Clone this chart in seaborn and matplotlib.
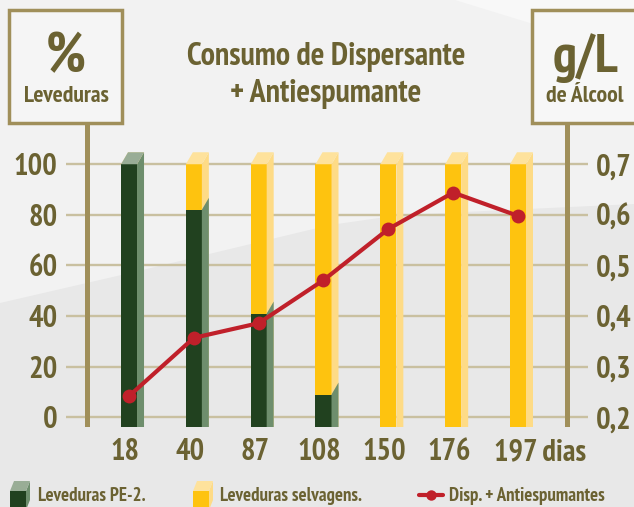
import numpy as np
import pandas as pd
import matplotlib
matplotlib.use("Agg")
import matplotlib.pyplot as plt
import matplotlib.transforms as mtransforms
from matplotlib.patches import Polygon, Rectangle
from matplotlib.lines import Line2D
import seaborn as sns

# -------------------------------
# Data
# -------------------------------
days = ["18", "40", "87", "108", "150", "176", "197"]
pe2 = [100, 82, 41, 9, 0, 0, 0]                 # % Leveduras PE-2
selvagens = [0, 18, 59, 91, 100, 100, 100]      # % Leveduras selvagens
alcool = [0.242, 0.357, 0.386, 0.471, 0.572, 0.644, 0.598]  # g/L de alcool

left_ticks = [0, 20, 40, 60, 80, 100]
right_ticks = [0.2, 0.3, 0.4, 0.5, 0.6, 0.7]
right_labels = ["0,2", "0,3", "0,4", "0,5", "0,6", "0,7"]

# -------------------------------
# Style
# -------------------------------
sns.set_style("white")
plt.rcParams["font.family"] = ["PT Sans Narrow", "Fira Sans Condensed", "DejaVu Sans"]
plt.rcParams["font.weight"] = "bold"

GREEN, GREEN_SIDE, GREEN_TOP = "#21411f", "#6e8e6d", "#99ad96"
YELLOW, YELLOW_SIDE, YELLOW_TOP = "#fec30f", "#fedb86", "#fee29c"
RED = "#c0202a"
TXT = "#6b6232"
FRAME = "#a08f5a"
GRID = "#c9c0a0"
TICK_FS = 22

W, H = 634, 507
fig = plt.figure(figsize=(W / 100, H / 100), dpi=100, facecolor="#e8e8e8")

def fx(px):
    return px / W

def fy(py):
    return 1 - py / H

# background shading
fig.add_artist(Polygon([(fx(0), fy(0)), (fx(634), fy(0)), (fx(634), fy(204)),
                        (fx(400), fy(215)), (fx(330), fy(225)), (fx(130), fy(273)),
                        (fx(0), fy(303))], closed=True, transform=fig.transFigure,
                       facecolor="#f2f2f2", edgecolor="none", zorder=-10))
fig.add_artist(Polygon([(fx(455), fy(0)), (fx(634), fy(0)), (fx(634), fy(55))],
                       closed=True, transform=fig.transFigure,
                       facecolor="#f8f8f8", edgecolor="none", zorder=-9))

# axes geometry: bar centres at 129..518 px, 0 -> 417 px, 100 -> 164 px
XMIN, XMAX = -0.972, 7.08
YMIN, YMAX = -3.83, 116.3
ax = fig.add_axes([fx(66), fy(427), fx(588) - fx(66), fy(123) - fy(427)])
ax.patch.set_visible(False)

df = pd.DataFrame({"dias": days, "pe2": pe2, "selvagens": selvagens})
df["total"] = df["pe2"] + df["selvagens"]

BAR_W = 0.247
DX, DY = 0.108, 4.74

sns.barplot(data=df, x="dias", y="total", color=YELLOW, saturation=1, width=BAR_W,
            errorbar=None, ax=ax, zorder=2)
sns.barplot(data=df, x="dias", y="pe2", color=GREEN, saturation=1, width=BAR_W,
            errorbar=None, ax=ax, zorder=3)

n = len(days)
yellow_bars = ax.patches[:n]
green_bars = ax.patches[n:2 * n]

def extrude(p, side, top, z, with_top):
    # run the bar down to the bottom edge and add the 3D side / top faces
    p.set_y(YMIN - 5)
    p.set_height(p.get_height() + 5 - YMIN)
    p.set_linewidth(0)
    x0, w = p.get_x(), p.get_width()
    y0, y1 = p.get_y(), p.get_y() + p.get_height()
    ax.add_patch(Polygon([(x0 + w, y0), (x0 + w + DX, y0 + DY), (x0 + w + DX, y1 + DY),
                          (x0 + w, y1)], closed=True, facecolor=side, edgecolor="none",
                         zorder=z))
    if with_top:
        ax.add_patch(Polygon([(x0, y1), (x0 + w, y1), (x0 + w + DX, y1 + DY),
                              (x0 + DX, y1 + DY)], closed=True, facecolor=top,
                             edgecolor="none", zorder=z))

for i in range(n):
    yb, gb = yellow_bars[i], green_bars[i]
    if yb.get_height() > 0:
        extrude(yb, YELLOW_SIDE, YELLOW_TOP, 2, True)
    if gb.get_height() > 0:
        extrude(gb, GREEN_SIDE, GREEN_TOP, 3, pe2[i] >= df["total"][i])
    else:
        gb.set_visible(False)

ax.hlines(left_ticks, XMIN, XMAX, color=GRID, lw=1.7, zorder=1)
ax.axvline(-0.648, color=FRAME, lw=3.6, zorder=5)
ax.axvline(6.756, color=FRAME, lw=3.6, zorder=5)

ax.set_xlim(XMIN, XMAX)
ax.set_ylim(YMIN, YMAX)
ax.set_xlabel("")
ax.set_ylabel("")
ax.set_yticks(left_ticks)
ax.set_xticks(range(n), labels=days[:-1] + [days[-1] + " dias"])
ax.tick_params(axis="y", length=0, pad=6, labelsize=TICK_FS, labelcolor=TXT)
ax.tick_params(axis="x", length=0, pad=8, labelsize=TICK_FS, labelcolor=TXT)
for s in ax.spines.values():
    s.set_visible(False)

for k, lab in enumerate(ax.get_xticklabels()):
    dx_px = -4
    if k == n - 1:
        lab.set_horizontalalignment("left")
        dx_px = -24
    lab.set_transform(lab.get_transform()
                      + mtransforms.ScaledTranslation(dx_px / 100, 0, fig.dpi_scale_trans))

# line on the right axis
ax2 = ax.twinx()
sns.lineplot(x=range(n), y=alcool, ax=ax2, color=RED, lw=3, marker="o",
             markersize=10, markeredgewidth=0, zorder=6)
ax2.set_ylim(0.2 + YMIN * 0.005, 0.2 + YMAX * 0.005)
ax2.set_xlim(XMIN, XMAX)
ax2.set_yticks(right_ticks)
ax2.set_yticklabels(right_labels)
ax2.tick_params(axis="y", length=0, pad=6, labelsize=TICK_FS, labelcolor=TXT)
ax2.set_ylabel("")
for s in ax2.spines.values():
    s.set_visible(False)

# header boxes and title
fig.add_artist(Rectangle((fx(9), fy(123)), fx(122) - fx(9), fy(10) - fy(123),
                         transform=fig.transFigure, facecolor="#f5f5f5",
                         edgecolor=FRAME, lw=2.5, zorder=5))
fig.add_artist(Rectangle((fx(532), fy(123)), fx(660) - fx(532), fy(10) - fy(123),
                         transform=fig.transFigure, facecolor="#f7f7f7",
                         edgecolor=FRAME, lw=2.5, zorder=5, clip_on=False))
fig.text(fx(66), fy(72), "%", ha="center", va="baseline", fontsize=40, color=TXT, zorder=6)
fig.text(fx(66), fy(102), "Leveduras", ha="center", va="baseline", fontsize=17, color=TXT, zorder=6)
fig.text(fx(586), fy(72), "g/L", ha="center", va="baseline", fontsize=39, color=TXT, zorder=6)
fig.text(fx(585), fy(102), "de Álcool", ha="center", va="baseline", fontsize=17, color=TXT, zorder=6)
fig.text(fx(326), fy(65), "Consumo de Dispersante", ha="center", va="baseline",
         fontsize=23, color=TXT)
fig.text(fx(326), fy(102), "+ Antiespumante", ha="center", va="baseline",
         fontsize=23, color=TXT)

# legend (drawn by hand to keep the 3D squares)
def legend_cube(x0, front, side, top):
    y_top, y_bot, d, dy = 491, 510, 4, 10
    fig.add_artist(Polygon([(fx(x0), fy(y_bot)), (fx(x0 + 16), fy(y_bot)),
                            (fx(x0 + 16), fy(y_top)), (fx(x0), fy(y_top))],
                           transform=fig.transFigure, facecolor=front, edgecolor="none"))
    fig.add_artist(Polygon([(fx(x0 + 16), fy(y_bot)), (fx(x0 + 16 + d), fy(y_bot - dy)),
                            (fx(x0 + 16 + d), fy(y_top - dy)), (fx(x0 + 16), fy(y_top))],
                           transform=fig.transFigure, facecolor=side, edgecolor="none"))
    fig.add_artist(Polygon([(fx(x0), fy(y_top)), (fx(x0 + 16), fy(y_top)),
                            (fx(x0 + 16 + d), fy(y_top - dy)), (fx(x0 + d), fy(y_top - dy))],
                           transform=fig.transFigure, facecolor=top, edgecolor="none"))

legend_cube(10, GREEN, GREEN_SIDE, GREEN_TOP)
legend_cube(193, YELLOW, YELLOW_SIDE, YELLOW_TOP)
fig.add_artist(Line2D([fx(419), fx(443)], [fy(495), fy(495)], transform=fig.transFigure,
                      color=RED, lw=3, zorder=6))
fig.add_artist(Line2D([fx(431)], [fy(495)], transform=fig.transFigure, color=RED,
                      marker="o", markersize=7.5, markeredgewidth=0, zorder=6))
fig.text(fx(38), fy(501), "Leveduras PE-2.", va="baseline", fontsize=13.5, color=TXT)
fig.text(fx(220), fy(501), "Leveduras selvagens.", va="baseline", fontsize=13.5, color=TXT)
fig.text(fx(449), fy(501), "Disp. + Antiespumantes", va="baseline", fontsize=13.5, color=TXT)

fig.savefig("out.png", dpi=100, facecolor=fig.get_facecolor())
